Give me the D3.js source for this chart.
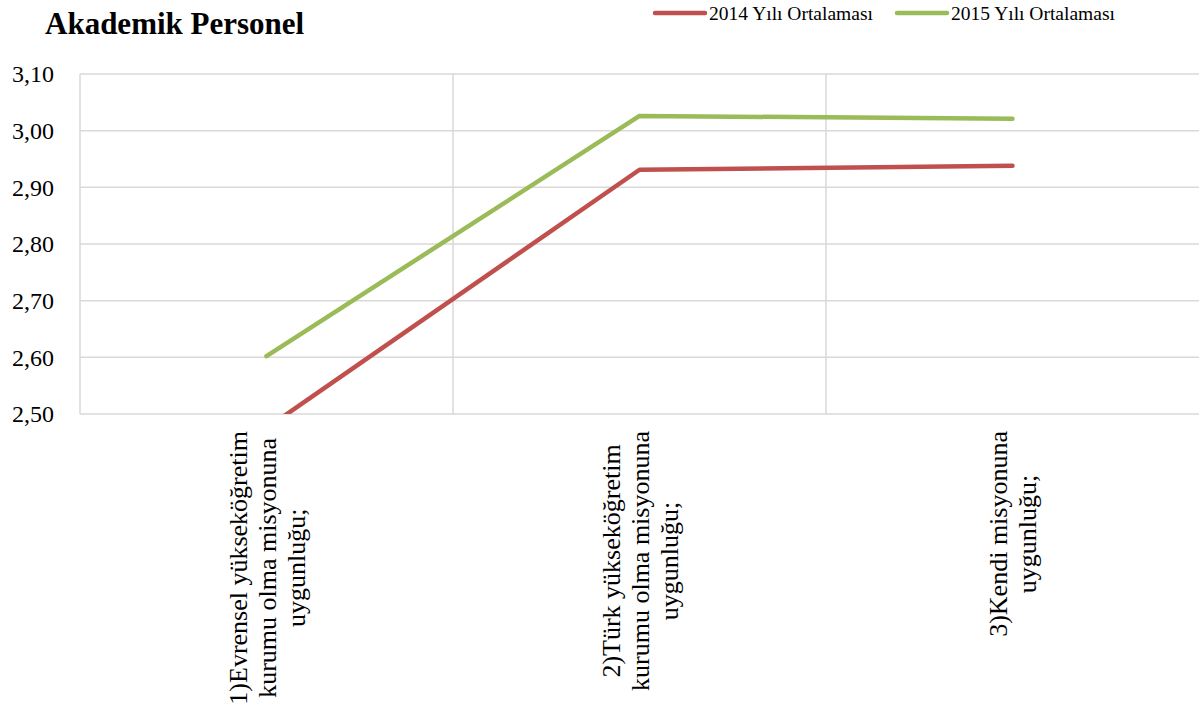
<!DOCTYPE html>
<html>
<head>
<meta charset="utf-8">
<script src="https://cdn.jsdelivr.net/npm/d3@7"></script>
<style>
  body { margin: 0; background: #fff; }
</style>
</head>
<body>
<svg id="chart"></svg>
<script>
// categories and the two yearly averages
var categories = [
  ["1)Evrensel yükseköğretim", "kurumu olma misyonuna", "uygunluğu;"],
  ["2)Türk yükseköğretim", "kurumu olma misyonuna", "uygunluğu;"],
  ["3)Kendi misyonuna", "uygunluğu;"]
];
var series2014 = [2.475, 2.931, 2.938];
var series2015 = [2.602, 3.026, 3.021];
var seriesNames = ["2014 Yılı Ortalaması", "2015 Yılı Ortalaması"];
var yTicks = [2.5, 2.6, 2.7, 2.8, 2.9, 3.0, 3.1];

var W = 1199, H = 717;
var margin = {top: 74, right: 0, bottom: 303, left: 80},
    width = W - margin.left - margin.right,
    height = H - margin.top - margin.bottom;

var colors = ["#C0504D", "#9BBB59"];
var serif = "'Liberation Serif', 'Times New Roman', Tinos, 'DejaVu Serif', serif";

var svg = d3.select("#chart")
  .attr("width", W)
  .attr("height", H)
  .style("display", "block");

var x = d3.scaleBand()
  .domain(d3.range(categories.length))
  .range([0, width]);
var y = d3.scaleLinear()
  .domain([2.5, 3.1])
  .range([height, 0]);

var plot = svg.append("g")
  .attr("transform", "translate(" + margin.left + "," + margin.top + ")");

svg.append("defs").append("clipPath")
  .attr("id", "clip")
  .append("rect")
  .attr("width", width)
  .attr("height", height);

// horizontal gridlines
plot.selectAll(".hgrid")
  .data(yTicks)
  .enter().append("line")
  .attr("class", "hgrid")
  .attr("x1", 0).attr("x2", width)
  .attr("y1", function(d) { return y(d); })
  .attr("y2", function(d) { return y(d); })
  .attr("stroke", "#d9d9d9")
  .attr("stroke-width", 1.5);

// vertical gridlines at category boundaries
plot.selectAll(".vgrid")
  .data(d3.range(categories.length))
  .enter().append("line")
  .attr("class", "vgrid")
  .attr("x1", function(d) { return x(d); })
  .attr("x2", function(d) { return x(d); })
  .attr("y1", 0).attr("y2", height)
  .attr("stroke", "#d9d9d9")
  .attr("stroke-width", 1.5);

// y axis labels
var yAxis = d3.axisLeft(y)
  .tickValues(yTicks)
  .tickSize(0)
  .tickPadding(26)
  .tickFormat(function(d) { return d3.format(".2f")(d).replace(".", ","); });
var yg = plot.append("g").call(yAxis);
yg.select(".domain").remove();
yg.selectAll("text")
  .style("font-family", serif)
  .style("font-size", "24px")
  .attr("fill", "#000");

// lines
var lineGen = d3.line()
  .x(function(d, i) { return x(i) + x.bandwidth() / 2; })
  .y(function(d) { return y(d); });

plot.append("g")
  .attr("clip-path", "url(#clip)")
  .selectAll(".series")
  .data([series2014, series2015])
  .enter().append("path")
  .attr("class", "series")
  .attr("d", function(d) { return lineGen(d); })
  .attr("fill", "none")
  .attr("stroke", function(d, i) { return colors[i]; })
  .attr("stroke-width", 4.5)
  .attr("stroke-linecap", "round")
  .attr("stroke-linejoin", "round");

// category labels, rotated, lines centred, block ends at the axis
var lineH = 29;
categories.forEach(function(lines, i) {
  var cx = margin.left + x(i) + x.bandwidth() / 2;
  var g = svg.append("g");
  var texts = lines.map(function(t, j) {
    return g.append("text")
      .text(t)
      .style("font-family", serif)
      .style("font-size", "26px")
      .attr("text-anchor", "middle")
      .attr("fill", "#000");
  });
  var maxLen = d3.max(texts, function(t) { return t.node().getComputedTextLength(); });
  var cy = margin.top + height + 17 + maxLen / 2;
  var n = lines.length;
  texts.forEach(function(t, j) {
    var off = (j - (n - 1) / 2) * lineH + 9;
    t.attr("transform", "translate(" + (cx + off) + "," + cy + ") rotate(-90)");
  });
});

// title
svg.append("text")
  .text("Akademik Personel")
  .attr("x", 45)
  .attr("y", 34)
  .style("font-family", serif)
  .style("font-size", "31px")
  .style("font-weight", "bold")
  .attr("fill", "#000");

// legend
var legendX = [655, 897];
seriesNames.forEach(function(name, i) {
  var lg = svg.append("g").attr("transform", "translate(" + legendX[i] + ",13)");
  lg.append("line")
    .attr("x1", 0).attr("x2", 50)
    .attr("y1", 0).attr("y2", 0)
    .attr("stroke", colors[i])
    .attr("stroke-width", 4.5)
    .attr("stroke-linecap", "round");
  lg.append("text")
    .text(name)
    .attr("x", 54)
    .attr("y", 7)
    .style("font-family", serif)
    .style("font-size", "19.5px")
    .attr("fill", "#000");
});
</script>
</body>
</html>
